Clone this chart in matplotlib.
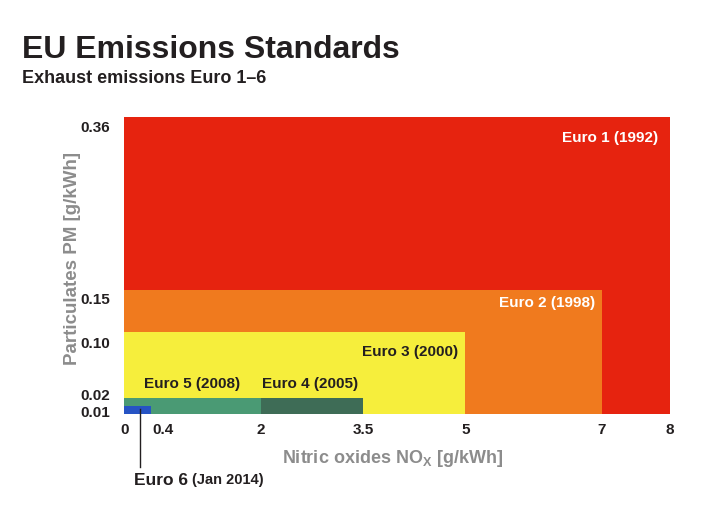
import matplotlib
matplotlib.use('Agg')
from matplotlib import pyplot as plt
from matplotlib import transforms

plt.rcParams['font.family'] = ['Liberation Sans', 'DejaVu Sans']

# Euro standards, drawn largest first so smaller ones sit on top
stages = ['Euro 1 (1992)', 'Euro 2 (1998)', 'Euro 3 (2000)', 'Euro 4 (2005)', 'Euro 5 (2008)', 'Euro 6 (Jan 2014)']
nox = [8, 7, 5, 3.5, 2, 0.4]
pm = [0.36, 0.15, 0.10, 0.02, 0.02, 0.01]
colors = ['#e6230f', '#f07a1e', '#f6ee3c', '#3e6c56', '#4a9a74', '#2653c4']

x_ticks = [0, 0.4, 2, 3.5, 5, 7, 8]
y_ticks = [0.36, 0.15, 0.10, 0.02, 0.01]
y_tick_labels = ['0.36', '0.15', '0.10', '0.02', '0.01']

dark = '#231f20'
grey = '#8c8c8c'

fig = plt.figure(figsize=(7.07, 5.08), dpi=100)
ax = fig.add_axes([0.1754, 0.185, 0.7723, 0.5846])

for n, p, c in zip(nox, pm, colors):
  ax.bar(0, p, width=n, align='edge', color=c, linewidth=0)

ax.set_xlim(0, 8)
ax.set_ylim(0, 0.36)
for s in ax.spines.values():
  s.set_visible(False)
ax.set_xticks([])
ax.set_yticks([])

# tick labels placed by hand (offsets like the original layout)
x_off = {0: 1, 0.4: 12}
for t in x_ticks:
  tr = ax.get_xaxis_transform() + transforms.ScaledTranslation(x_off.get(t, 0) / 100, -16 / 100, fig.dpi_scale_trans)
  ax.text(t, 0, ('%g' % t), transform=tr, ha='center', va='center', fontsize=11, fontweight='bold', color=dark)

y_off = {0.36: -11, 0.15: -10, 0.10: -12, 0.02: 2, 0.01: -7}
for t, lab in zip(y_ticks, y_tick_labels):
  tr = ax.get_yaxis_transform() + transforms.ScaledTranslation(-14 / 100, y_off[t] / 100, fig.dpi_scale_trans)
  ax.text(0, t, lab, transform=tr, ha='right', va='center', fontsize=11, fontweight='bold', color=dark)

# stage labels
ax.text(7.83, 0.335, stages[0], ha='right', va='center', fontsize=11, fontweight='bold', color='white')
ax.text(6.9, 0.134, stages[1], ha='right', va='center', fontsize=11, fontweight='bold', color='white')
ax.text(4.9, 0.075, stages[2], ha='right', va='center', fontsize=11, fontweight='bold', color=dark)
ax.text(0.3, 0.036, stages[4], ha='left', va='center', fontsize=11, fontweight='bold', color=dark)
ax.text(2.02, 0.036, stages[3], ha='left', va='center', fontsize=11, fontweight='bold', color=dark)

# Euro 6 callout
ax.plot([0.23, 0.23], [0.006, -0.064], color=dark, linewidth=1, clip_on=False)
ax.annotate('Euro 6', xy=(0.15, -0.08), xycoords='data', ha='left', va='center',
            fontsize=12.5, fontweight='bold', color=dark, annotation_clip=False)
ax.annotate('(Jan 2014)', xy=(0.99, -0.08), xycoords='data', ha='left', va='center',
            fontsize=10.5, fontweight='bold', color=dark, annotation_clip=False)

ax.set_xlabel('Nitric oxides NO$_\\mathregular{X}$ [g/kWh]', fontsize=13, fontweight='bold', color=grey)
ax.set_ylabel('Particulates PM [g/kWh]', fontsize=13.5, fontweight='bold', color=grey)
ax.xaxis.set_label_coords(0.491, -0.115)
ax.yaxis.set_label_coords(-0.079, 0.525)

fig.text(0.031, 0.886, 'EU Emissions Standards', fontsize=23, fontweight='bold', color=dark, va='baseline')
fig.text(0.031, 0.836, 'Exhaust emissions Euro 1\u20136', fontsize=13, fontweight='bold', color=dark, va='baseline')

plt.savefig('out.png', dpi=100)
